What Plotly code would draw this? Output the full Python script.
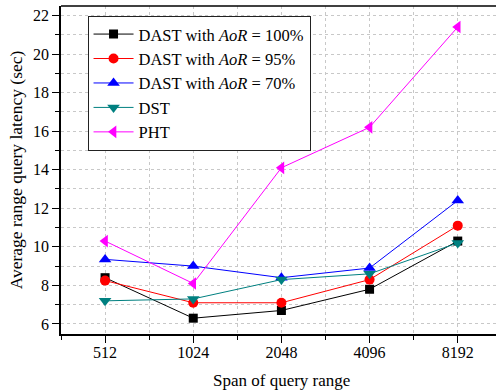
import plotly.graph_objects as go

# Query range spans (categories on the x axis)
spans = ["512", "1024", "2048", "4096", "8192"]

# Average range query latency (sec) per scheme
dast_aor100 = [8.4, 6.3, 6.7, 7.8, 10.3]
dast_aor95 = [8.25, 7.1, 7.1, 8.3, 11.1]
dast_aor70 = [9.35, 9.0, 8.4, 8.9, 12.4]
dst = [7.2, 7.3, 8.3, 8.6, 10.2]
pht = [10.3, 8.1, 14.1, 16.2, 21.4]

series = [
    ("DAST with <i>AoR</i> = 100%", dast_aor100, "black", "square", 9),
    ("DAST with <i>AoR</i> = 95%", dast_aor95, "#ff0000", "circle", 10),
    ("DAST with <i>AoR</i> = 70%", dast_aor70, "#0000ff", "triangle-up", 11),
    ("DST", dst, "#008080", "triangle-down", 11),
    ("PHT", pht, "#ff00ff", "triangle-left", 11),
]

xpos = list(range(len(spans)))

fig = go.Figure()
for name, vals, color, sym, size in series:
    fig.add_trace(go.Scatter(
        x=xpos, y=vals, name=name, mode="lines+markers",
        line=dict(color=color, width=1),
        marker=dict(symbol=sym, size=size, color=color),
    ))

font_family = "Liberation Serif"
grid_color = "#c8c8c8"

fig.update_layout(
    width=496, height=392,
    margin=dict(l=61, r=0, t=6, b=58),
    paper_bgcolor="white", plot_bgcolor="white",
    font=dict(family=font_family, size=16, color="black"),
    showlegend=True,
    legend=dict(
        x=0.061, y=0.970, xanchor="left", yanchor="top",
        bordercolor="#222222", borderwidth=1, bgcolor="white",
        font=dict(family=font_family, size=16.5), itemwidth=40,
        tracegroupgap=0,
    ),
    xaxis=dict(
        range=[-0.5, 4.434],
        tickmode="array", tickvals=xpos, ticktext=spans,
        ticks="outside", ticklen=7, tickwidth=1, tickcolor="black",
        ticklabelstandoff=-4,
        showline=True, linecolor="black", linewidth=1.5, mirror=False,
        showgrid=True, gridcolor=grid_color, griddash="dot", gridwidth=1,
        minor=dict(tick0=0.5, dtick=1, ticks="outside", ticklen=4,
                   tickcolor="black", showgrid=True, gridcolor=grid_color,
                   griddash="dot"),
        zeroline=False,
        tickfont=dict(family=font_family, size=16),
    ),
    yaxis=dict(
        range=[5.48, 22.49],
        tick0=0, dtick=2,
        ticks="outside", ticklen=7, tickwidth=1, tickcolor="black",
        showline=True, linecolor="black", linewidth=1.5,
        showgrid=True, gridcolor=grid_color, griddash="dot", gridwidth=1,
        minor=dict(dtick=1, ticks="outside", ticklen=4, tickcolor="black",
                   showgrid=True, gridcolor=grid_color, griddash="dot"),
        zeroline=False,
        title=dict(text="Average range query latency (sec)", standoff=6,
                   font=dict(family=font_family, size=17.5)),
        tickfont=dict(family=font_family, size=16),
    ),
    annotations=[dict(
        text="Span of query range", xref="paper", yref="paper",
        x=0.507, y=-0.143, xanchor="center", yanchor="middle",
        showarrow=False, font=dict(family=font_family, size=17),
    )],
    shapes=[dict(
        type="line", xref="paper", yref="paper", x0=0, x1=1, y0=1, y1=1,
        line=dict(color="black", width=1.5),
    )],
)

fig.write_html("out.html")
